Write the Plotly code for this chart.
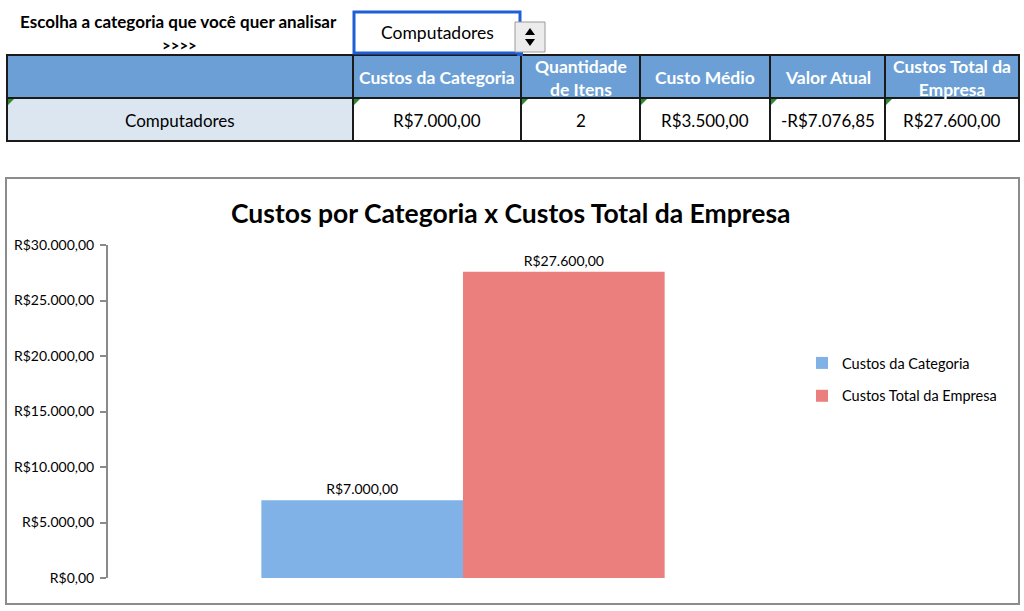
import plotly.graph_objects as go

# ---------------- data ----------------
categories = ["Computadores"]
series_names = ["Custos da Categoria", "Custos Total da Empresa"]
series_values = [7000, 27600]
bar_labels = ["R$7.000,00", "R$27.600,00"]

y_tick_vals = [0, 5000, 10000, 15000, 20000, 25000, 30000]
y_tick_text = ["R$0,00", "R$5.000,00", "R$10.000,00", "R$15.000,00",
               "R$20.000,00", "R$25.000,00", "R$30.000,00"]

table_header = ["", "Custos da Categoria", "Quantidade<br>de Itens", "Custo Médio",
                "Valor Atual", "Custos Total da<br>Empresa"]
table_row = ["Computadores", "R$7.000,00", "2", "R$3.500,00", "-R$7.076,85", "R$27.600,00"]

prompt_text = "Escolha a categoria que você quer analisar"
prompt_arrows = ">>>>"
selected_category = "Computadores"
chart_title = "Custos por Categoria x Custos Total da Empresa"

# ---------------- style ----------------
W, H = 1024, 611
FONT = "Lato"
TABLE_LEFT = 7
col_widths = [346, 168, 119, 130, 115, 134]
HEADER_TOP, HEADER_BOTTOM, ROW_BOTTOM = 55, 98, 141
HEADER_BLUE = "#6b9fd6"
LIGHT_BLUE = "#dce6f1"
BORDER = "#1a1a1a"
BAR_COLORS = ["#81b2e7", "#ea7f7d"]


def px(x):
    return x / W


def py(y):
    return 1 - y / H


def rect(x0, y0, x1, y1, fill, line_color="rgba(0,0,0,0)", lw=0, layer="above"):
    return dict(type="rect", xref="paper", yref="paper",
                x0=px(x0), x1=px(x1), y0=py(y1), y1=py(y0),
                line=dict(color=line_color, width=lw), fillcolor=fill, layer=layer)


def seg(x0, y0, x1, y1, color, lw):
    return dict(type="line", xref="paper", yref="paper",
                x0=px(x0), x1=px(x1), y0=py(y0), y1=py(y1),
                line=dict(color=color, width=lw))


def tri(points, color):
    d = "M " + " L ".join("%f,%f" % (px(x), py(y)) for x, y in points) + " Z"
    return dict(type="path", xref="paper", yref="paper", path=d,
                fillcolor=color, line=dict(width=0))


fig = go.Figure()

# bars
for name, val, lab, col in zip(series_names, series_values, bar_labels, BAR_COLORS):
    fig.add_trace(go.Bar(
        x=categories, y=[val], name=name, text=[lab],
        textposition="outside", cliponaxis=False,
        textfont=dict(family=FONT, size=14, color="black"),
        marker=dict(color=col, line=dict(width=0)),
        legendgroup=name,
    ))

shapes = []
annotations = []

# ---- table ----
edges = [TABLE_LEFT]
for w in col_widths:
    edges.append(edges[-1] + w)

for i, (head, cell) in enumerate(zip(table_header, table_row)):
    x0, x1 = edges[i], edges[i + 1]
    shapes.append(rect(x0, HEADER_TOP, x1, HEADER_BOTTOM, HEADER_BLUE))
    shapes.append(rect(x0, HEADER_BOTTOM, x1, ROW_BOTTOM, LIGHT_BLUE if i == 0 else "white"))
    cx = (x0 + x1) / 2
    if head:
        annotations.append(dict(text="<b>%s</b>" % head, x=px(cx), y=py((HEADER_TOP + HEADER_BOTTOM) / 2 + 1),
                                xref="paper", yref="paper", xanchor="center", yanchor="middle",
                                showarrow=False,
                                font=dict(family=FONT, size=17.5, color="white")))
    annotations.append(dict(text=cell, x=px(cx), y=py((HEADER_BOTTOM + ROW_BOTTOM) / 2 + 1),
                            xref="paper", yref="paper", xanchor="center", yanchor="middle",
                            showarrow=False, font=dict(family=FONT, size=17, color="black")))
    shapes.append(tri([(x0 + 1, HEADER_BOTTOM + 1), (x0 + 7, HEADER_BOTTOM + 1),
                       (x0 + 1, HEADER_BOTTOM + 7)], "#2e8b2e"))

for yy in [HEADER_TOP, HEADER_BOTTOM, ROW_BOTTOM]:
    shapes.append(seg(edges[0] - 1, yy, edges[-1] + 1, yy, BORDER, 2))
for xx in edges:
    shapes.append(seg(xx, HEADER_TOP, xx, ROW_BOTTOM, BORDER, 2))

# chart border
shapes.append(rect(6, 178, 1019, 604, "rgba(0,0,0,0)", "#8c8c8c", 2, layer="below"))

# dropdown box
shapes.append(rect(354, 12, 520, 53, "white", "#1f5fd6", 3))
shapes.append(rect(517, 50, 523, 56, "#1f5fd6"))
# spinner button
shapes.append(rect(515, 22, 545, 52, "#ececec", "#9a9a9a", 1))
shapes.append(tri([(525, 35), (535, 35), (530, 28)], "black"))
shapes.append(tri([(525, 39), (535, 39), (530, 46)], "black"))

annotations += [
    dict(text="<b>%s</b>" % prompt_text, x=px(178), y=py(22)),
    dict(text="<b>%s</b>" % prompt_arrows, x=px(179), y=py(45)),
    dict(text=selected_category, x=px(437), y=py(33)),
    dict(text="<b>%s</b>" % chart_title, x=px(511), y=py(213)),
]
sizes = [17, 15, 17.5, 26.5]
for a, s in zip(annotations[-4:], sizes):
    a.update(xref="paper", yref="paper", xanchor="center", yanchor="middle",
             showarrow=False, font=dict(family=FONT, size=s, color="black"))

fig.update_layout(
    width=W, height=H,
    margin=dict(l=0, r=0, t=0, b=0, autoexpand=False),
    paper_bgcolor="white", plot_bgcolor="white",
    barmode="group", bargap=0.432, bargroupgap=0,
    font=dict(family=FONT, color="black"),
    shapes=shapes, annotations=annotations,
    showlegend=True,
    legend=dict(x=px(802), y=py(347), xanchor="left", yanchor="top",
                traceorder="grouped", tracegroupgap=11,
                font=dict(family=FONT, size=14.5, color="black"),
                bgcolor="rgba(0,0,0,0)"),
    xaxis=dict(domain=[px(108), px(818)], showticklabels=False, showline=False,
               showgrid=False, zeroline=False, ticks="", automargin=False),
    yaxis=dict(domain=[py(578), py(245)], range=[0, 30000],
               tickvals=y_tick_vals, ticktext=y_tick_text,
               showline=True, linecolor="#8a8a8a", linewidth=2,
               ticks="outside", ticklen=6, tickcolor="#8a8a8a", tickwidth=2,
               ticklabelstandoff=3,
               showgrid=False, zeroline=False, automargin=False,
               tickfont=dict(family=FONT, size=14, color="black")),
)

fig.write_html("out.html")
